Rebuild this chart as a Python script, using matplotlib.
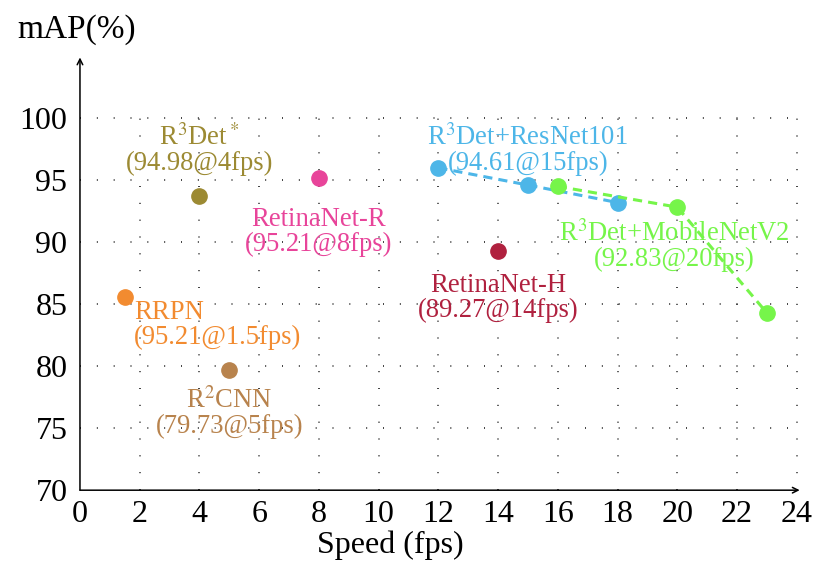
import matplotlib
matplotlib.use("Agg")
import matplotlib.pyplot as plt

plt.rcParams['font.family'] = ['Liberation Serif', 'DejaVu Serif']
plt.rcParams['mathtext.fontset'] = 'stix'

# Single-point methods
single_names = ["RRPN", "R$^2$CNN", "R$^3$Det$^*$", "RetinaNet-R", "RetinaNet-H"]
single_labels = ["(95.21@1.5fps)", "(79.73@5fps)", "(94.98@4fps)", "(95.21@8fps)", "(89.27@14fps)"]
single_fps = [1.5, 5, 4, 8, 14]
single_map = [85.6, 79.73, 93.7, 95.21, 89.27]
single_colors = ["#F28B30", "#B8834D", "#9C8A33", "#E8449A", "#B0213F"]

# Line series
res_fps = [12, 15, 18]
res_map = [96.0, 94.61, 93.2]
mob_fps = [16, 20, 23]
mob_map = [94.5, 92.83, 84.3]
res_color = "#4DB6E8"
mob_color = "#76F54A"

xticks = list(range(0, 25, 2))
yticks = list(range(70, 101, 5))

fig = plt.figure(figsize=(8.16, 5.68), dpi=100)
ax = fig.add_axes([0.098, 0.137, 0.882, 0.764])
ax.set_xlim(0, 24.1)
ax.set_ylim(70, 105)

# dotted grid limited to data box
for xv in xticks[1:]:
    ax.plot([xv, xv], [70, 100], color='#222222', lw=1.2, linestyle=(0, (0.6, 9.5)), zorder=1)
for yv in yticks[1:]:
    ax.plot([0, 24], [yv, yv], color='#222222', lw=1.2, linestyle=(0, (0.6, 9.5)), zorder=1)

for s in ax.spines.values():
    s.set_visible(False)

# axis arrows
ax.annotate('', xy=(24.1, 70), xytext=(0, 70),
            arrowprops=dict(arrowstyle='->', lw=1.1, color='black', shrinkA=0, shrinkB=0),
            annotation_clip=False)
ax.annotate('', xy=(0, 104.9), xytext=(0, 70),
            arrowprops=dict(arrowstyle='->', lw=1.1, color='black', shrinkA=0, shrinkB=0),
            annotation_clip=False)

ax.set_xticks(xticks)
ax.set_yticks(yticks)
ax.tick_params(length=0, labelsize=23)
ax.tick_params(axis='y', pad=9)
ax.tick_params(axis='x', pad=7)

ax.set_xlabel("Speed (fps)", fontsize=23, labelpad=0)
ax.xaxis.set_label_coords(10.4 / 24.1, -0.093)
ax.text(-0.087, 1.062, "mAP(%)", transform=ax.transAxes, fontsize=24, ha='left', va='center')

ax.plot(res_fps, res_map, linestyle=(0, (3, 2)), lw=2.2, color=res_color, marker='o',
        markersize=11, zorder=3)
ax.plot(mob_fps, mob_map, linestyle=(0, (3, 2)), lw=2.2, color=mob_color, marker='o',
        markersize=11, zorder=3)

for x, y, c in zip(single_fps, single_map, single_colors):
    ax.plot([x], [y], marker='o', markersize=11, color=c, linestyle='none', zorder=3)

fs = 19.2
# label positions (data coords) and alignment
lab_pos = [(1.82, 83.3, 'left'), (5.0, 76.2, 'center'), (4.0, 97.4, 'center'),
           (8.0, 90.8, 'center'), (14.0, 85.5, 'center')]
for (n, l, c), (lx, ly, ha) in zip(zip(single_names, single_labels, single_colors), lab_pos):
    ax.text(lx, ly, n + "\n" + l, color=c, fontsize=fs, ha=ha, va='center',
            linespacing=1.0, multialignment=ha, zorder=4)

ax.text(15.0, 97.4, "R$^3$Det+ResNet101\n(94.61@15fps)", color=res_color, fontsize=fs,
        ha='center', va='center', linespacing=1.0, zorder=4)
ax.text(19.9, 89.7, "R$^3$Det+MobileNetV2\n(92.83@20fps)", color=mob_color, fontsize=fs,
        ha='center', va='center', linespacing=1.0, zorder=4)

fig.savefig("out.png", dpi=100)
